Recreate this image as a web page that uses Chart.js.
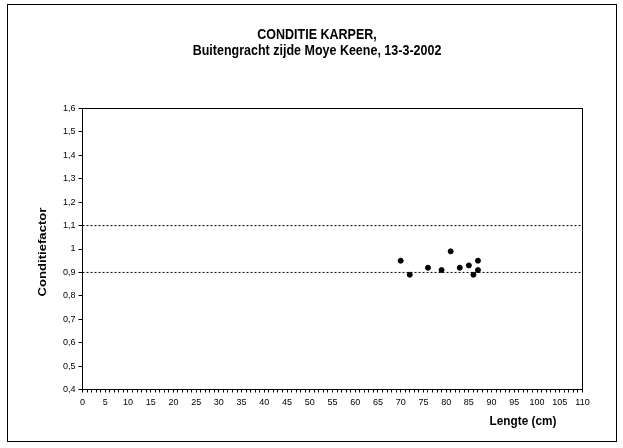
<!DOCTYPE html>
<html>
<head>
<meta charset="utf-8">
<script src="https://cdn.jsdelivr.net/npm/chart.js@4"></script>
<style>
  body { margin: 0; background: #fff; }
  canvas { display: block; }
</style>
</head>
<body>
<canvas id="chart" width="623" height="448"></canvas>
<script>
// lengte (cm) en conditiefactor per gevangen karper
const lengths = [70, 72, 76, 79, 81, 83, 85, 86, 87, 87];
const factors = [0.95, 0.89, 0.92, 0.91, 0.99, 0.92, 0.93, 0.89, 0.95, 0.91];

// grenswaarden voor normale conditie
const limitX = [0, 110];
const upperLimit = [1.1, 1.1];
const lowerLimit = [0.9, 0.9];

const titleLines = ["CONDITIE KARPER,", "Buitengracht zijde Moye Keene, 13-3-2002"];
const xTitle = "Lengte (cm)";
const yTitle = "Conditiefactor";

const FONT = "'Liberation Sans', Arial, sans-serif";

function fmtComma(v) {
  return String(Number(v.toFixed(1))).replace(".", ",");
}

function limitLine(values) {
  return {
    type: "line",
    data: limitX.map((x, i) => ({ x: x, y: values[i] })),
    borderColor: "#000",
    borderWidth: 1,
    borderDash: [2, 2],
    pointRadius: 0,
    fill: false,
  };
}

// tekst met iets hogere letters (sx, sy = schaal)
function stretchedText(ctx, text, x, y, sx, sy) {
  ctx.save();
  ctx.translate(x, y);
  ctx.scale(sx, sy);
  ctx.fillText(text, 0, 0);
  ctx.restore();
}

// frame, titels en rand om het plotgebied
const decorations = {
  id: "decorations",
  afterDraw(chart) {
    const ctx = chart.ctx;
    const a = chart.chartArea;
    ctx.save();
    ctx.strokeStyle = "#000";
    ctx.lineWidth = 1;
    ctx.strokeRect(7.5, 4.5, 609, 437);
    ctx.strokeRect(a.left, a.top, a.right - a.left, a.bottom - a.top);

    ctx.fillStyle = "#000";
    ctx.textAlign = "center";
    ctx.textBaseline = "middle";
    ctx.font = "bold 12.5px " + FONT;
    stretchedText(ctx, titleLines[0], 317, 35, 1, 1.1);
    stretchedText(ctx, titleLines[1], 317, 51.5, 1, 1.1);

    ctx.font = "bold 11.8px " + FONT;
    stretchedText(ctx, xTitle, 523, 421, 1, 1.15);

    ctx.translate(43, 252);
    ctx.rotate(-Math.PI / 2);
    ctx.font = "bold 11.5px " + FONT;
    stretchedText(ctx, yTitle, 0, 0, 1.14, 1);
    ctx.restore();
  },
};

new Chart(document.getElementById("chart").getContext("2d"), {
  type: "scatter",
  data: {
    datasets: [
      {
        data: lengths.map((x, i) => ({ x: x, y: factors[i] })),
        backgroundColor: "#000",
        borderColor: "#000",
        pointRadius: 2.5,
        pointHoverRadius: 2.5,
      },
      limitLine(upperLimit),
      limitLine(lowerLimit),
    ],
  },
  options: {
    responsive: false,
    animation: false,
    devicePixelRatio: 1,
    layout: { padding: { top: 108.5, right: 40.5, left: 0, bottom: 0 } },
    plugins: {
      legend: { display: false },
      title: { display: false },
      tooltip: { enabled: false },
    },
    scales: {
      x: {
        type: "linear",
        min: 0,
        max: 110,
        afterFit(scale) { scale.height = 58.5; },
        ticks: {
          stepSize: 1,
          autoSkip: false,
          maxTicksLimit: 200,
          maxRotation: 0,
          padding: 5,
          color: "#000",
          font: { family: FONT, size: 9 },
          callback: (v) => (v % 5 === 0 ? String(v) : ""),
        },
        grid: { drawOnChartArea: false, tickLength: 3, color: "#000" },
        border: { color: "#000", width: 1 },
      },
      y: {
        min: 0.4,
        max: 1.6,
        afterFit(scale) { scale.width = 82.5; },
        ticks: {
          stepSize: 0.1,
          padding: 3,
          color: "#000",
          font: { family: FONT, size: 9 },
          callback: (v) => fmtComma(v),
        },
        grid: { drawOnChartArea: false, tickLength: 4, color: "#000" },
        border: { color: "#000", width: 1 },
      },
    },
  },
  plugins: [decorations],
});
</script>
</body>
</html>
